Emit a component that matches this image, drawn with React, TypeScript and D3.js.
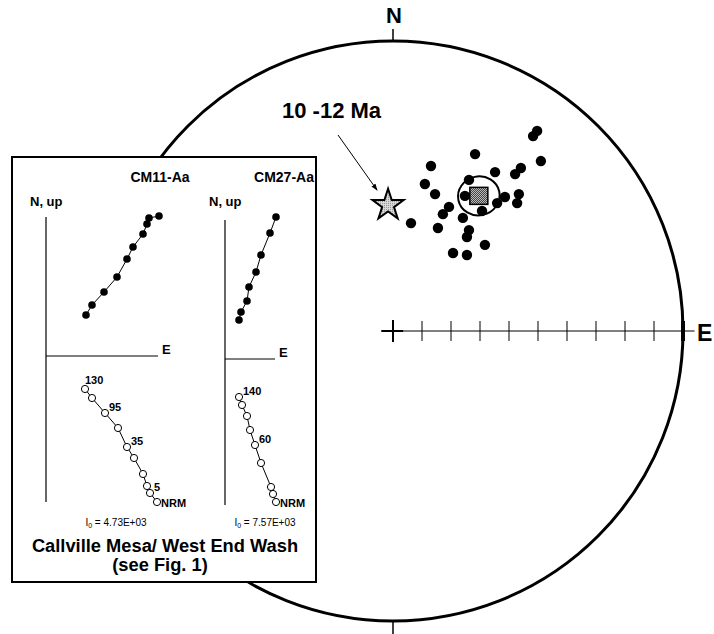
import React from 'react';
import * as d3 from 'd3';

// site directions, projected onto the net (east, north), unit radius
const siteEast = [0.497, 0.483, 0.283, 0.51, 0.131, 0.352, 0.441, 0.421, 0.11, 0.262, 0.145, 0.386, 0.434, 0.428, 0.359, 0.193, 0.172, 0.307, 0.241, 0.062, 0.155, 0.262, 0.255, 0.317, 0.207, 0.255, 0.248];
const siteNorth = [0.69, 0.672, 0.61, 0.586, 0.569, 0.548, 0.562, 0.541, 0.507, 0.521, 0.472, 0.462, 0.472, 0.441, 0.441, 0.428, 0.403, 0.414, 0.39, 0.372, 0.355, 0.348, 0.324, 0.297, 0.269, 0.262, 0.466];
const meanDir = { east: 0.296, north: 0.466, a95e: 0.072, a95n: 0.067 };
const expectedDir = { east: -0.017, north: 0.434 };
const netTicks = d3.range(0, 1.001, 0.1);

// Zijderveld demag data (E, N / up), arbitrary units
const cm11H = [[11.3, 14.0], [10.3, 13.8], [10.1, 13.2], [9.7, 12.2], [8.7, 10.9], [8.1, 9.7], [7.1, 7.9], [5.8, 6.4], [4.6, 5.1], [4.0, 4.1]];
const cm11V = [[3.9, -3.3], [4.6, -4.2], [5.9, -5.7], [7.2, -7.2], [8.1, -9.1], [8.8, -10.2], [9.7, -11.8], [10.1, -13.0], [10.4, -13.7], [11.1, -14.6]];
const cm11Labels = ['130', '', '95', '', '35', '', '', '', '5', 'NRM'];
const cm27H = [[5.1, 14.2], [4.5, 12.6], [3.6, 10.4], [3.1, 8.7], [2.4, 7.2], [2.2, 5.8], [1.6, 4.7], [1.4, 3.9]];
const cm27V = [[1.4, -3.8], [1.7, -4.6], [2.2, -5.7], [2.5, -7.1], [3.0, -8.6], [3.6, -10.4], [4.6, -12.8], [4.8, -13.5], [5.1, -14.3]];
const cm27Labels = ['140', '', '', '', '60', '', '', '', 'NRM'];

const font = '"Liberation Sans", Arial, Helvetica, sans-serif';

const Zijderveld = ({ ox, oy, name, nameX, h, v, labels, axisLen, io, ioX }) => {
  const x = d3.scaleLinear().domain([0, 10]).range([ox, ox + 100]);
  const y = d3.scaleLinear().domain([0, 10]).range([oy, oy - 100]);
  const line = d3.line().x((d) => x(d[0])).y((d) => y(d[1]));
  return (
    <g fontFamily={font}>
      <text x={nameX} y={182} fontSize={14} fontWeight="bold" textAnchor="middle">{name}</text>
      <text x={x(-1.6)} y={206} fontSize={13} fontWeight="bold">N, up</text>
      <line x1={x(0)} x2={x(0)} y1={y(13.9)} y2={y(-14.6)} stroke="#000" strokeWidth={1.2} />
      <line x1={x(0)} x2={x(axisLen)} y1={y(0)} y2={y(0)} stroke="#000" strokeWidth={1} />
      <text x={x(axisLen) + 4} y={y(0) - 2} fontSize={13} fontWeight="bold">E</text>
      <path d={line(h)} fill="none" stroke="#000" strokeWidth={1} />
      {h.map((d, i) => (
        <circle key={'h' + i} cx={x(d[0])} cy={y(d[1])} r={3.8} fill="#000" />
      ))}
      <path d={line(v)} fill="none" stroke="#000" strokeWidth={1} />
      {v.map((d, i) => (
        <circle key={'v' + i} cx={x(d[0])} cy={y(d[1])} r={3.6} fill="#fff" stroke="#000" strokeWidth={1} />
      ))}
      {v.map((d, i) =>
        labels[i] ? (
          <text key={'l' + i} x={x(d[0]) + (labels[i] === '130' ? 0 : 4)} y={y(d[1]) + (labels[i] === 'NRM' ? 5 : labels[i] === '130' ? -5 : -2)} fontSize={11} fontWeight="bold">
            {labels[i]}
          </text>
        ) : null
      )}
      <text x={ioX} y={526} fontSize={10} textAnchor="middle">
        I<tspan fontSize={7} dy={2}>0</tspan><tspan dy={-2}> = {io}</tspan>
      </text>
    </g>
  );
};

export default function App() {
  const cx = 393;
  const cy = 331;
  const R = 290;
  const sx = d3.scaleLinear().domain([-1, 1]).range([cx - R, cx + R]);
  const sy = d3.scaleLinear().domain([-1, 1]).range([cy + R, cy - R]);
  const star = d3.symbol(d3.symbolStar, 300)();

  return (
    <svg width={714} height={634} style={{ position: 'absolute', left: 0, top: 0, background: '#fff' }}>
      <defs>
        <pattern id="dark" width={2} height={2} patternUnits="userSpaceOnUse">
          <rect width={2} height={2} fill="#444" />
          <rect width={1} height={1} fill="#bbb" />
          <rect x={1} y={1} width={1} height={1} fill="#bbb" />
        </pattern>
        <pattern id="light" width={2} height={2} patternUnits="userSpaceOnUse">
          <rect width={2} height={2} fill="#ddd" />
          <rect width={1} height={1} fill="#888" />
        </pattern>
        <marker id="arrow" viewBox="0 0 10 10" refX={9} refY={5} markerWidth={7} markerHeight={7} orient="auto">
          <path d="M0,1.5L10,5L0,8.5z" fill="#000" />
        </marker>
      </defs>

      {/* net */}
      <circle cx={cx} cy={cy} r={R} fill="none" stroke="#000" strokeWidth={3} />
      <line x1={sx(0)} x2={sx(0)} y1={sy(1) - 12} y2={sy(1)} stroke="#000" strokeWidth={1.5} />
      <line x1={sx(0)} x2={sx(0)} y1={sy(-1)} y2={sy(-1) + 14} stroke="#000" strokeWidth={1.5} />
      <text x={sx(0) + 1} y={23} fontFamily={font} fontSize={22} fontWeight="bold" textAnchor="middle">N</text>
      <line x1={sx(-0.04)} x2={sx(1.04)} y1={sy(0)} y2={sy(0)} stroke="#000" strokeWidth={1} />
      {netTicks.map((t, i) => (
        <line
          key={i}
          x1={sx(t)}
          x2={sx(t)}
          y1={sy(0) - (i === 0 ? 11 : 10)}
          y2={sy(0) + (i === 0 ? 11 : 10)}
          stroke="#000"
          strokeWidth={i === 0 ? 2 : i === 10 ? 4 : 1}
        />
      ))}
      <line x1={sx(-0.04)} x2={sx(0.035)} y1={sy(0)} y2={sy(0)} stroke="#000" strokeWidth={2} />
      <text x={697} y={341} fontFamily={font} fontSize={23} fontWeight="bold">E</text>

      {/* label and arrow */}
      <text x={282} y={118} fontFamily={font} fontSize={22} fontWeight="bold">10 -12 Ma</text>
      <line x1={338} y1={135} x2={sx(expectedDir.east) - 11} y2={sy(expectedDir.north) - 15} stroke="#000" strokeWidth={1} markerEnd="url(#arrow)" />

      {/* site means */}
      {siteEast.map((e, i) => (
        <circle key={i} cx={sx(e)} cy={sy(siteNorth[i])} r={5.2} fill="#000" />
      ))}
      <ellipse
        cx={sx(meanDir.east)}
        cy={sy(meanDir.north)}
        rx={sx(meanDir.a95e) - sx(0)}
        ry={sy(0) - sy(meanDir.a95n)}
        transform={`rotate(-12 ${sx(meanDir.east)} ${sy(meanDir.north)})`}
        fill="none"
        stroke="#000"
        strokeWidth={2}
      />
      <rect x={sx(meanDir.east) - 9} y={sy(meanDir.north) - 8.5} width={18} height={17} fill="url(#dark)" stroke="#000" strokeWidth={1.5} />
      <path d={star} transform={`translate(${sx(expectedDir.east)},${sy(expectedDir.north)})`} fill="url(#light)" stroke="#000" strokeWidth={2} strokeLinejoin="miter" />

      {/* inset */}
      <rect x={12} y={157} width={304} height={425} fill="#fff" stroke="#000" strokeWidth={2} />
      <Zijderveld ox={46} oy={356} name="CM11-Aa" nameX={160} h={cm11H} v={cm11V} labels={cm11Labels} axisLen={11.2} io="4.73E+03" ioX={116} />
      <Zijderveld ox={225} oy={359} name="CM27-Aa" nameX={284} h={cm27H} v={cm27V} labels={cm27Labels} axisLen={5} io="7.57E+03" ioX={265} />
      <text x={165} y={552} fontFamily={font} fontSize={18.3} fontWeight="bold" textAnchor="middle">Callville Mesa/ West End Wash</text>
      <text x={160} y={571} fontFamily={font} fontSize={18.3} fontWeight="bold" textAnchor="middle">(see Fig. 1)</text>
    </svg>
  );
}
